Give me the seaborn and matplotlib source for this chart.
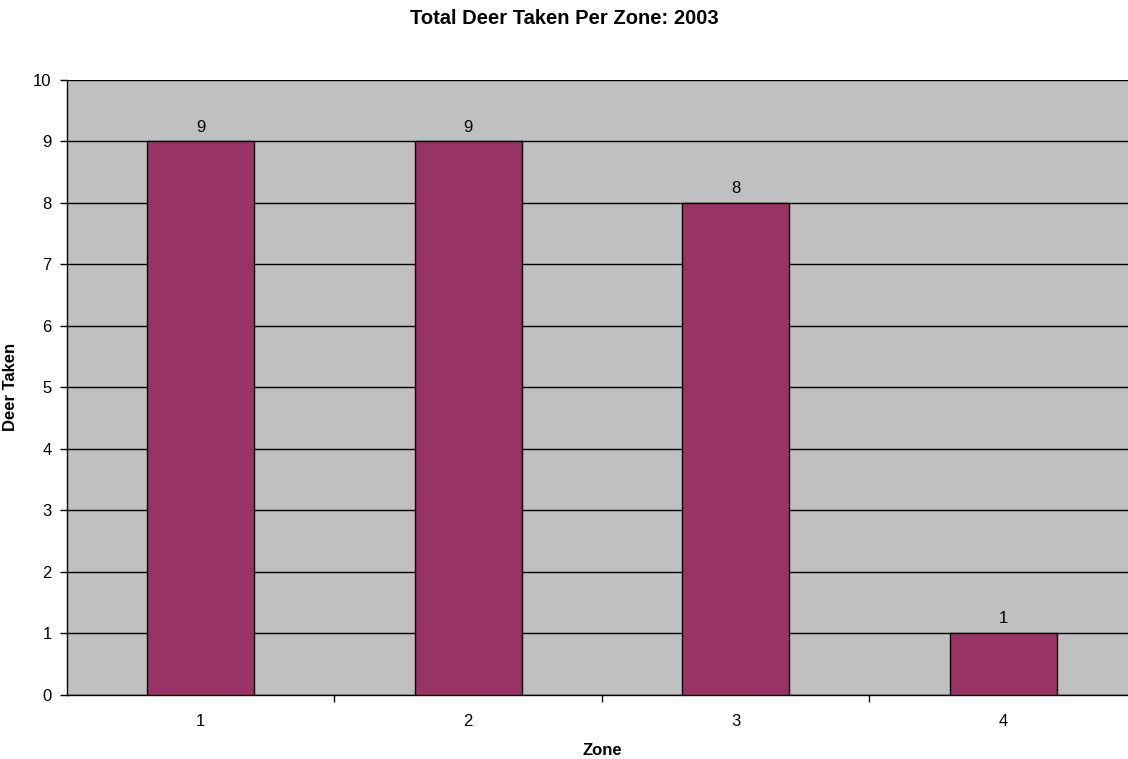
import matplotlib
matplotlib.use("Agg")
import matplotlib.pyplot as plt
import seaborn as sns
import pandas as pd
import numpy as np

zones = ["1", "2", "3", "4"]
deer_taken = [9, 9, 8, 1]
y_ticks = list(range(0, 11))

sns.set_theme(style="white")
plt.rcParams['font.family'] = ['Liberation Sans', 'DejaVu Sans']
plt.rcParams['text.color'] = 'black'
plt.rcParams['axes.labelcolor'] = 'black'
plt.rcParams['xtick.color'] = 'black'
plt.rcParams['ytick.color'] = 'black'

fig = plt.figure(figsize=(11.28, 7.59), dpi=100)
W, H = 1128, 759
left, right, top, bottom = 67, 67 + 4 * 267.5, 80, 694.7
ax = fig.add_axes([left / W, (H - bottom) / H, (right - left) / W, (bottom - top) / H])
ax.set_facecolor('#C0C0C0')

df = pd.DataFrame({"Zone": zones, "Deer": deer_taken})
sns.barplot(data=df, x="Zone", y="Deer", color='#993366', saturation=1,
            width=0.4, edgecolor='black', linewidth=1, ax=ax, zorder=3)

ax.set_xlim(-0.5, len(zones) - 0.5)
ax.set_ylim(0, 10)
ax.set_yticks(y_ticks)
ax.yaxis.grid(True, color='black', linewidth=1, zorder=0)
ax.set_axisbelow(True)

# x ticks at category boundaries, labels in the middle
ax.set_xticks(np.arange(0.5, len(zones) - 0.5, 1))
ax.set_xticklabels([])
ax.set_xticks(np.arange(len(zones)), minor=True)
ax.set_xticklabels(zones, minor=True)
ax.tick_params(axis='x', which='major', direction='out', length=5, width=1, color='black', bottom=True)
ax.tick_params(axis='x', which='minor', length=0, labelsize=12, pad=14, colors='black')
ax.tick_params(axis='y', direction='out', length=5, width=1, color='black', labelsize=12, pad=6, left=True,
               labelcolor='black')

for s in ['top', 'right']:
    ax.spines[s].set_visible(False)
for s in ['left', 'bottom']:
    ax.spines[s].set_color('black')
    ax.spines[s].set_linewidth(1)

for c in ax.containers:
    ax.bar_label(c, labels=[str(v) for v in deer_taken], padding=5, fontsize=12, color='black')

ax.set_xlabel("Zone", fontsize=12, fontweight='bold', labelpad=10, color='black')
ax.set_ylabel("Deer Taken", fontsize=12, fontweight='bold', labelpad=11, color='black')
fig.suptitle("Total Deer Taken Per Zone: 2003", fontsize=14.5, fontweight='bold', y=1 - 19 / H,
             va='center', color='black')

fig.savefig("out.png", dpi=100)
